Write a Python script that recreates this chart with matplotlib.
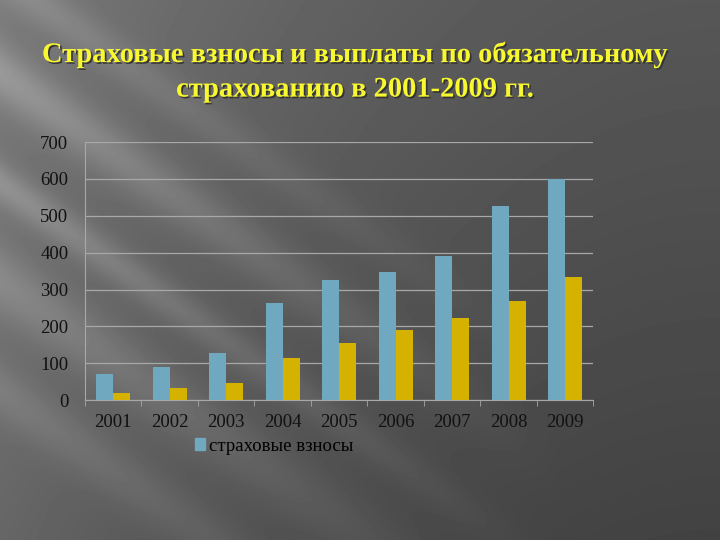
import numpy as np
import matplotlib
matplotlib.use("Agg")
import matplotlib.pyplot as plt
from matplotlib.patches import Patch
import matplotlib.patheffects as pe

# data
years = ['2001', '2002', '2003', '2004', '2005', '2006', '2007', '2008', '2009']
vznosy = [72, 90, 127, 264, 326, 348, 392, 527, 600]
vyplaty = [20, 32, 47, 115, 156, 190, 224, 270, 335]
yticks = [0, 100, 200, 300, 400, 500, 600, 700]

title = 'Страховые взносы и выплаты по обязательному\nстрахованию в 2001-2009 гг.'
legend_label = 'страховые взносы'

blue = '#6fa8bf'
yellow = '#d6b200'

fig = plt.figure(figsize=(7.2, 5.4), dpi=100)

# slide background: dark grey with light diagonal streaks
bg = fig.add_axes([0, 0, 1, 1], zorder=-10)
h, w = 540, 720
yy, xx = np.mgrid[0:h, 0:w]
base = 0.34 - 0.08 * (yy / h) + 0.14 * (1 - xx / w) ** 2
d = xx * np.sin(np.radians(35)) - yy * np.cos(np.radians(35))
fade = np.clip(1 - xx / 560, 0, 1)
streaks = 0.0
for c, s, a in [(-60, 25, 0.13), (-150, 18, 0.12), (-230, 30, 0.10), (20, 20, 0.08), (-320, 25, 0.07)]:
    streaks = streaks + a * np.exp(-((d - c) / s) ** 2)
img = np.clip(base + streaks * fade, 0, 1)
bg.imshow(img, cmap='gray', vmin=0, vmax=1, aspect='auto', extent=[0, 1, 0, 1])
bg.axis('off')

fig.text(0.493, 0.866, title, ha='center', va='center', fontsize=20.5, fontweight='bold',
         family='Liberation Serif', color='#f8f830', linespacing=1.5,
         path_effects=[pe.withSimplePatchShadow(offset=(1.2, -1.2), shadow_rgbFace='#303030', alpha=0.9)])

ax = fig.add_axes([0.118, 0.259, 0.706, 0.478])
ax.patch.set_alpha(0)
x = np.arange(len(years))
bw = 0.3
ax.bar(x - bw / 2, vznosy, bw, color=blue, zorder=3)
ax.bar(x + bw / 2, vyplaty, bw, color=yellow, zorder=3)

ax.set_xlim(-0.5, len(years) - 0.5)
ax.set_ylim(0, 700)
ax.set_yticks(yticks)
ax.set_xticks(x)
ax.set_xticklabels(years)
ax.set_xticks(np.arange(-0.5, len(years)), minor=True)
ax.yaxis.grid(True, color='#a8a8a8', linewidth=0.9, zorder=0)
ax.tick_params(axis='y', length=0, pad=12, labelsize=13.5)
ax.tick_params(axis='x', which='major', length=0, pad=10, labelsize=13.5)
ax.tick_params(axis='x', which='minor', length=4, color='#a8a8a8', direction='out')
for lab in ax.get_xticklabels() + ax.get_yticklabels():
    lab.set_family('Liberation Serif')
    lab.set_color('#111111')
for sp in ['top', 'right']:
    ax.spines[sp].set_visible(False)
ax.spines['left'].set_color('#a8a8a8')
ax.spines['bottom'].set_color('#a8a8a8')

fig.legend(handles=[Patch(color=blue, label=legend_label)], loc='center left',
           bbox_to_anchor=(0.247, 0.174), frameon=False, handlelength=0.55, handleheight=0.6,
           handletextpad=0.2, prop={'family': 'Liberation Serif', 'size': 13.5})

fig.savefig('out.png', dpi=100)
